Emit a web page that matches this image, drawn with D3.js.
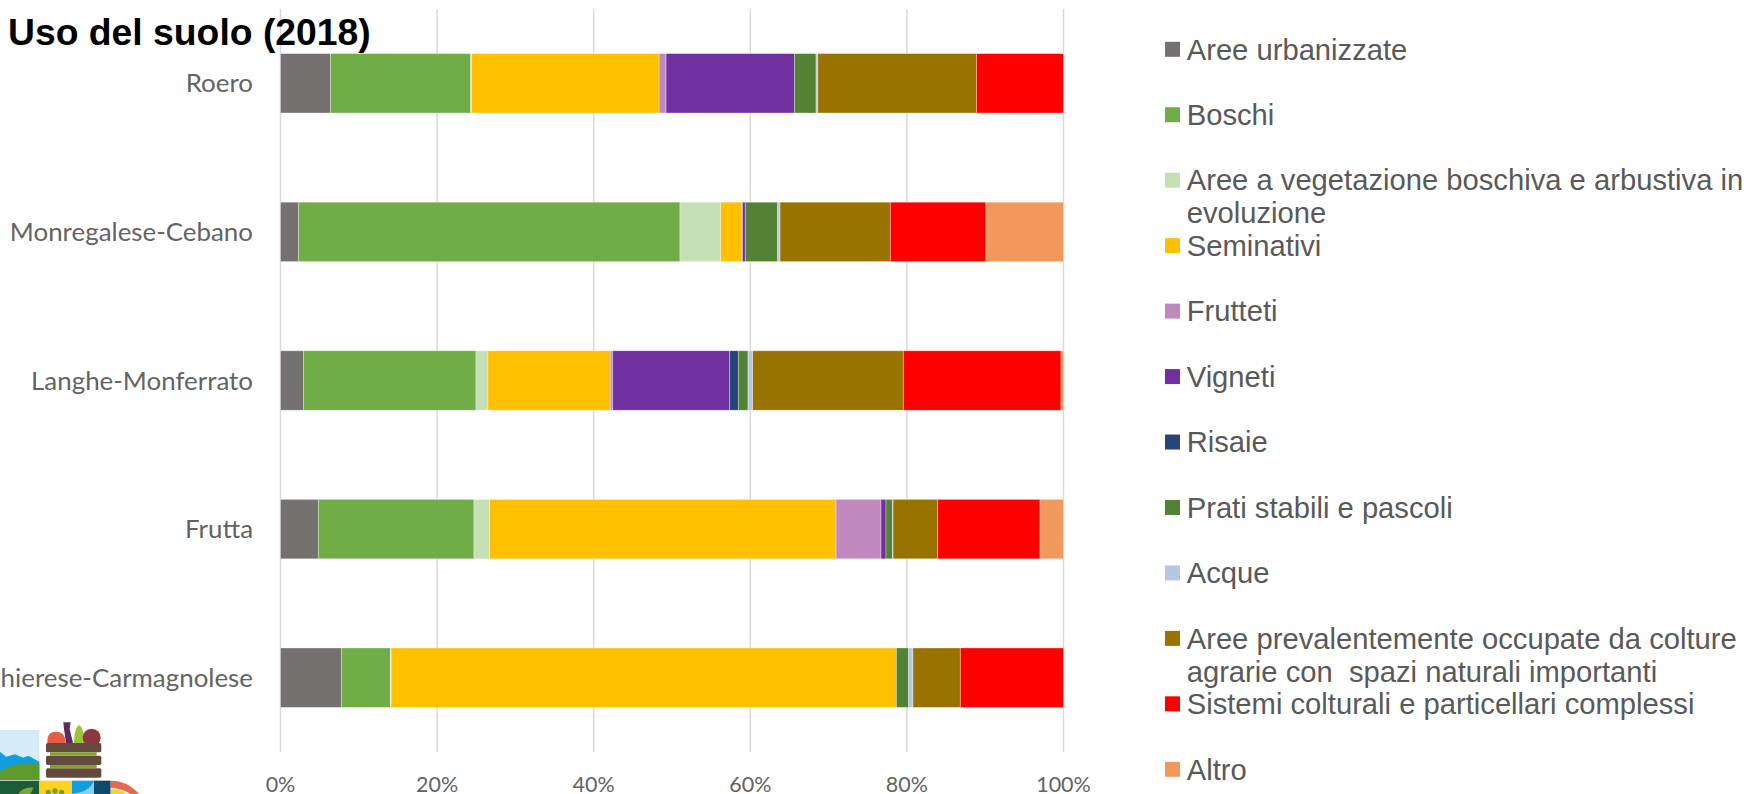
<!DOCTYPE html>
<html><head><meta charset="utf-8">
<script src="https://cdn.jsdelivr.net/npm/d3@7/dist/d3.min.js"></script>
<style>html,body{margin:0;padding:0;background:#fff;overflow:hidden}svg{display:block}</style>
</head><body><svg id="c" width="1750" height="794"></svg>
<script>
const title = "Uso del suolo (2018)";
const categories = ["Roero","Monregalese-Cebano","Langhe-Monferrato","Frutta","Chierese-Carmagnolese"];
const tickLabels = [0,20,40,60,80,100];
const seriesNames = ["Aree urbanizzate","Boschi","Aree a vegetazione boschiva e arbustiva in evoluzione","Seminativi","Frutteti","Vigneti","Risaie","Prati stabili e pascoli","Acque","Aree prevalentemente occupate da colture agrarie con  spazi naturali importanti","Sistemi colturali e particellari complessi","Altro"];
const legendLines = [["Aree urbanizzate"],["Boschi"],["Aree a vegetazione boschiva e arbustiva in","evoluzione"],["Seminativi"],["Frutteti"],["Vigneti"],["Risaie"],["Prati stabili e pascoli"],["Acque"],["Aree prevalentemente occupate da colture","agrarie con  spazi naturali importanti"],["Sistemi colturali e particellari complessi"],["Altro"]];
const colors = ["#767171","#70AD47","#C5E0B4","#FFC000","#C088BF","#7030A0","#264478","#548235","#B4C7E7","#997300","#FF0000","#F1995B"];
// values per category, in the order of categories
const urbanizzate = [6.39,2.30,2.92,4.83,7.77];
const boschi      = [17.90,48.72,22.05,19.88,6.26];
const vegetazione = [0.10,5.20,1.53,2.00,0.10];
const seminativi  = [23.96,2.72,15.62,44.24,64.52];
const frutteti    = [0.89,0.05,0.31,5.74,0];
const vigneti     = [16.40,0.37,14.94,0.64,0];
const risaie      = [0,0,1.10,0,0];
const prati       = [2.76,4.14,1.24,0.85,1.58];
const acque       = [0.22,0.30,0.60,0.05,0.55];
const colture     = [20.27,14.08,19.23,5.70,6.04];
const sistemi     = [11.11,12.22,20.14,13.07,13.18];
const altro       = [0,9.90,0.32,3.00,0];
const seriesValues = [urbanizzate,boschi,vegetazione,seminativi,frutteti,vigneti,risaie,prati,acque,colture,sistemi,altro];

const svg = d3.select("#c");
const x = d3.scaleLinear().domain([0,100]).range([280.5,1063.5]);
const y = d3.scaleBand().domain(categories).range([9,752]).paddingInner(0.6).paddingOuter(0.3);
const rows = categories.map((c,i)=>{const r={cat:c};seriesNames.forEach((s,j)=>r[s]=seriesValues[j][i]);return r;});
const stacked = d3.stack().keys(seriesNames)(rows);

// gridlines
svg.append("g").selectAll("line").data(tickLabels).join("line")
  .attr("x1",d=>x(d)).attr("x2",d=>x(d)).attr("y1",9).attr("y2",752)
  .attr("stroke","#D9D9D9").attr("stroke-width",1.5);

// bars
svg.append("g").selectAll("g").data(stacked).join("g")
  .attr("fill",(d,i)=>colors[i])
  .selectAll("rect").data(d=>d.filter(p=>p[1]>p[0])).join("rect")
  .attr("x",d=>x(d[0])).attr("width",d=>x(d[1])-x(d[0]))
  .attr("y",d=>y(d.data.cat)).attr("height",y.bandwidth())
  .attr("stroke","#fff").attr("stroke-opacity",0.45).attr("stroke-width",0.75);

// category labels
svg.append("g").selectAll("text").data(categories).join("text")
  .attr("x",253).attr("y",d=>y(d)+y.bandwidth()/2).attr("dy","0.35em")
  .attr("text-anchor","end").attr("font-family","Lato, sans-serif").attr("font-size",25.9).attr("fill","#636363").text(d=>d);

// value axis labels
svg.append("g").selectAll("text").data(tickLabels).join("text")
  .attr("x",d=>x(d)).attr("y",784).attr("dy","0.35em")
  .attr("text-anchor","middle").attr("font-family","Lato, sans-serif").attr("font-size",21.5).attr("fill","#636363").text(d=>d+"%");

// legend
const lg = d3.scaleLinear().domain([0,11]).range([49.3,769.3]);
const item = svg.append("g").selectAll("g").data(legendLines).join("g")
  .attr("transform",(d,i)=>`translate(1165,${lg(i)})`);
item.append("rect").attr("x",0).attr("y",-7.5).attr("width",15).attr("height",15).attr("fill",(d,i)=>colors[i]);
item.selectAll("text").data(d=>d).join("text")
  .attr("x",21.7).attr("y",(d,i)=>i*33).attr("dy","0.35em").style("white-space","pre")
  .attr("font-family","'Liberation Sans', Arial, sans-serif").attr("font-size",29.2).attr("fill","#595959").text(d=>d);

// title
svg.append("text").attr("x",8).attr("y",45).attr("font-family","'Liberation Sans', Arial, sans-serif")
  .attr("font-weight","bold").attr("font-size",37.3).attr("fill","#000").text(title);

// decorative logo, cropped by the bottom-left corner
const logo = svg.append("g").attr("transform","translate(0,715) scale(0.3333)");
[["#D6ECFA",0,45,118,150],["#1D5C38",0,197,118,45],["#FFD21F",118,197,98,45],["#0F9FE0",216,197,66,45],["#0D4A6E",282,197,50,45]]
 .forEach(r=>logo.append("rect").attr("x",r[1]).attr("y",r[2]).attr("width",r[3]).attr("height",r[4]).attr("fill",r[0]));
logo.append("path").attr("d","M0,110 L18,125 L45,118 L70,128 L85,122 L118,140 L118,195 L0,195Z").attr("fill","#0F9FE0");
logo.append("path").attr("d","M0,168 Q60,135 118,148 L118,195 L0,195Z").attr("fill","#5E9A2E");
logo.append("path").attr("d","M55,237 Q65,218 100,217 Q95,237 85,240 L55,240Z").attr("fill","#7AA53A");
logo.append("path").attr("d","M282,197 Q270,225 240,232 L216,237 L216,240 L282,240 Z").attr("fill","#FFFFFF").attr("opacity",0.5);
logo.append("path").attr("d","M142,84 Q140,50 168,50 Q196,50 197,84Z").attr("fill","#E85C44");
logo.append("path").attr("d","M222,84 Q222,40 237,30 Q255,40 252,84Z").attr("fill","#9CC33C");
logo.append("path").attr("d","M190,22 L212,22 L209,42 L219,84 L198,84 L192,42Z").attr("fill","#5B2A5E");
logo.append("circle").attr("cx",275).attr("cy",68).attr("r",27).attr("fill","#8C3740");
[[84,28],[122,28],[160,28]].forEach(b=>logo.append("rect").attr("x",138).attr("y",b[0]).attr("width",166).attr("height",b[1]).attr("rx",5).attr("fill","#634A3E"));
[[112,10],[150,10]].forEach(b=>logo.append("rect").attr("x",150).attr("y",b[0]).attr("width",140).attr("height",b[1]).attr("fill","#85A22B"));
logo.append("path").attr("d","M332,237 L332,197 Q385,197 420,240 L395,240 Q370,220 332,218Z").attr("fill","#E8694A");
logo.append("path").attr("d","M332,240 L332,222 Q360,222 385,240Z").attr("fill","#FFD21F");
[[145,232],[165,228],[185,232]].forEach(c=>logo.append("circle").attr("cx",c[0]).attr("cy",c[1]).attr("r",8).attr("fill","#7F9C2F"));
</script></body></html>
